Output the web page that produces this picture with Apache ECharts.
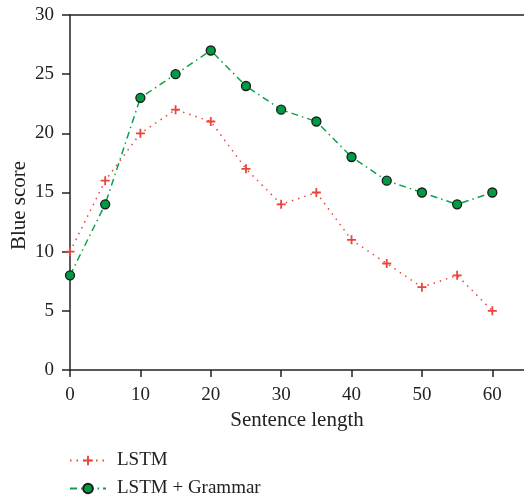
<!DOCTYPE html>
<html>
<head>
<meta charset="utf-8">
<script src="https://cdn.jsdelivr.net/npm/echarts@6/dist/echarts.min.js"></script>
<style>
  html, body { margin: 0; padding: 0; background: #fff; }
  #chart { width: 524px; height: 498px; }
</style>
</head>
<body>
<div id="chart"></div>
<script>
// sentence length on x, blue score on y
const lengths = [0, 5, 10, 15, 20, 25, 30, 35, 40, 45, 50, 55, 60]
const lstm = [10, 16, 20, 22, 21, 17, 14, 15, 11, 9, 7, 8, 5]
const lstmGrammar = [8, 14, 23, 25, 27, 24, 22, 21, 18, 16, 15, 14, 15]
const xTicks = [0, 10, 20, 30, 40, 50, 60]
const seriesNames = ['LSTM', 'LSTM + Grammar']

let font = 'Liberation Serif'
let axisColor = '#222'
let redColor = '#e8463c'
let greenColor = '#0aa14a'
let crossPath = 'path://M4,0 L6,0 L6,4 L10,4 L10,6 L6,6 L6,10 L4,10 L4,6 L0,6 L0,4 L4,4 Z'

let chart = echarts.init(document.getElementById('chart'))

let option = {
  animation: false,
  backgroundColor: '#fff',
  grid: {
    left: 70,
    right: 0,
    top: 15,
    bottom: 128,
    containLabel: false,
    outerBoundsMode: 'none',
  },
  legend: {
    orient: 'vertical',
    left: 69,
    top: 451,
    height: 60,
    padding: 0,
    itemGap: 9,
    itemWidth: 36,
    itemHeight: 12,
    textStyle: { fontFamily: font, fontSize: 19, color: '#222', padding: [0, 0, 0, 6] },
    data: seriesNames,
  },
  xAxis: [
    {
      type: 'value',
      min: 0,
      max: 64.5,
      interval: 10,
      name: 'Sentence length',
      nameLocation: 'middle',
      nameGap: 40,
      nameMoveOverlap: false,
      nameTextStyle: { fontFamily: font, fontSize: 21, color: '#222' },
      axisLine: { lineStyle: { color: axisColor, width: 1.5 } },
      axisTick: { show: true, length: 7, customValues: xTicks, lineStyle: { color: axisColor, width: 1.5 } },
      axisLabel: {
        fontFamily: font,
        fontSize: 19,
        color: '#222',
        margin: 16,
        customValues: xTicks,
      },
      splitLine: { show: false },
    },
    {
      type: 'value',
      position: 'top',
      min: 0,
      max: 64.5,
      axisLine: { show: true, lineStyle: { color: axisColor, width: 1.5 } },
      axisTick: { show: false },
      axisLabel: { show: false },
      splitLine: { show: false },
    },
  ],
  yAxis: {
    type: 'value',
    min: 0,
    max: 30,
    interval: 5,
    name: 'Blue score',
    nameLocation: 'middle',
    nameGap: 40,
    nameMoveOverlap: false,
    nameTextStyle: { fontFamily: font, fontSize: 21, color: '#222', padding: [0, 26, 0, 0] },
    axisLine: { show: true, lineStyle: { color: axisColor, width: 1.5 } },
    axisTick: { show: true, length: 8, lineStyle: { color: axisColor, width: 1.5 } },
    axisLabel: { fontFamily: font, fontSize: 19, color: '#222', margin: 16 },
    splitLine: { show: false },
  },
  series: [
    {
      name: seriesNames[0],
      type: 'line',
      data: lengths.map((x, i) => [x, lstm[i]]),
      symbol: crossPath,
      symbolSize: 9,
      showAllSymbol: true,
      lineStyle: { color: redColor, width: 1.5, type: [1.5, 5] },
      itemStyle: { color: redColor, borderWidth: 0 },
      z: 2,
    },
    {
      name: seriesNames[1],
      type: 'line',
      data: lengths.map((x, i) => [x, lstmGrammar[i]]),
      symbol: 'circle',
      symbolSize: 9,
      showAllSymbol: true,
      lineStyle: { color: greenColor, width: 1.5, type: [7, 4, 1.5, 4] },
      itemStyle: { color: '#009a44', borderColor: '#1a1a1a', borderWidth: 1.3 },
      z: 3,
    },
  ],
}

chart.setOption(option)
</script>
</body>
</html>
